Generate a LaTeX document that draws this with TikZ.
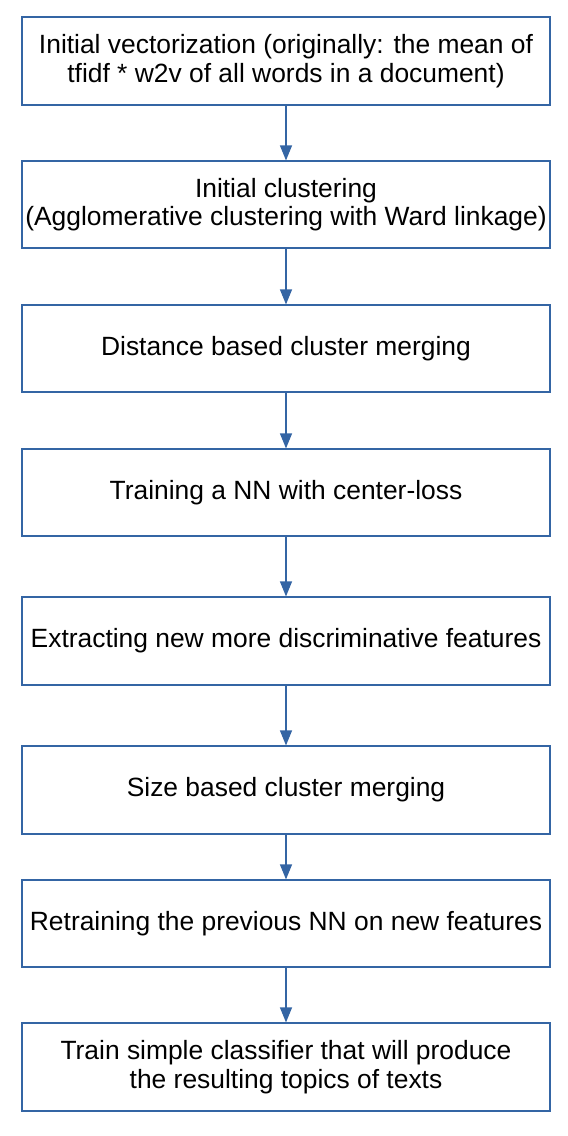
\documentclass[tikz,border=0pt]{standalone}
\usepackage{fontspec}
\setmainfont{Liberation Sans}
\usetikzlibrary{arrows.meta}
\definecolor{lo}{HTML}{3465A4}
\begin{document}
\begin{tikzpicture}[x=1pt,y=-1pt,
  stepbox/.style={draw=lo,line width=1.2pt,fill=white,minimum width=528pt,inner sep=0pt,align=center,
    font=\fontsize{26.4pt}{28.5pt}\selectfont},
  conn/.style={draw=lo,line width=1.2pt,-{Triangle[width=12pt,length=15pt]}}]
\useasboundingbox (0,0) rectangle (568,1136);
\node[stepbox,minimum height=88pt] (b1) at (286,61) {Initial vectorization (originally: the mean of\\tfidf * w2v of all words in a document)};
\node[stepbox,minimum height=87pt] (b2) at (286,204.5) {Initial clustering\\(Agglomerative clustering with Ward linkage)};
\node[stepbox,minimum height=87pt] (b3) at (286,348.5) {Distance based cluster merging};
\node[stepbox,minimum height=87pt] (b4) at (286,492.5) {Training a NN with center-loss};
\node[stepbox,minimum height=88pt] (b5) at (286,641) {Extracting new more discriminative features};
\node[stepbox,minimum height=88pt] (b6) at (286,790) {Size based cluster merging};
\node[stepbox,minimum height=87pt] (b7) at (286,923.5) {Retraining the previous NN on new features};
\node[stepbox,minimum height=88pt] (b8) at (286,1067) {Train simple classifier that will produce\\the resulting topics of texts};
\foreach \a/\b in {b1/b2,b2/b3,b3/b4,b4/b5,b5/b6,b6/b7,b7/b8}
  \draw[conn] (\a) -- (\b);
\end{tikzpicture}
\end{document}
